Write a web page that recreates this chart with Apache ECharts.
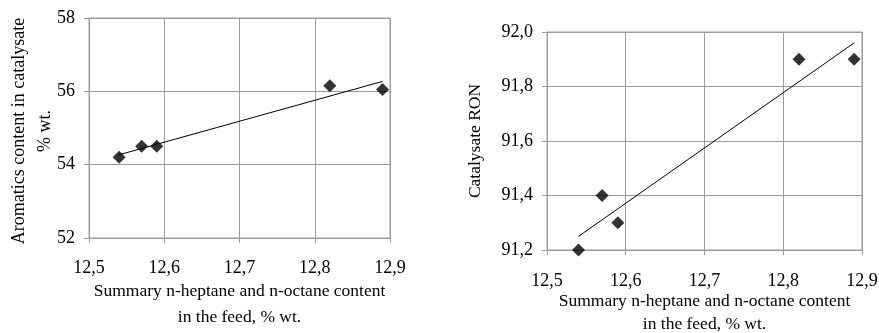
<!DOCTYPE html>
<html>
<head>
<meta charset="utf-8">
<script src="https://cdn.jsdelivr.net/npm/echarts@6/dist/echarts.min.js"></script>
<style>
html,body{margin:0;padding:0;background:#fff;}
#c{width:879px;height:333px;}
</style>
</head>
<body>
<div id="c"></div>
<script>
// Data
var feedContent = [12.54, 12.57, 12.59, 12.82, 12.89];
var aromatics = [54.2, 54.5, 54.5, 56.15, 56.05];
var ron = [91.2, 91.4, 91.3, 91.9, 91.9];
// Trend line end points
var trendX = [12.54, 12.89];
var aromaticsTrend = [54.27, 56.27];
var ronTrend = [91.25, 91.96];

var xTitle = 'Summary n-heptane and n-octane content\nin the feed, % wt.';
var yTitleLeft = 'Aromatics content in catalysate\n% wt.';
var yTitleRight = 'Catalysate RON';

function pairs(xs, ys){ return xs.map(function(x,i){ return [x, ys[i]]; }); }

var FONT = '"Liberation Serif", "Times New Roman", serif';
var GRAY = '#9c9c9c';
var TICK_FS = 18;
var NAME_FS = 17.5;

function xAxisCfg(idx, gap, lh, margin){
  return {
    gridIndex: idx, type: 'value', min: 12.5, max: 12.9, interval: 0.1,
    axisLine: {show: true, lineStyle: {color: GRAY, width: 1}},
    axisTick: {show: true, length: 5, lineStyle: {color: GRAY}},
    splitLine: {show: true, lineStyle: {color: GRAY, width: 1}},
    axisLabel: {color: '#000', fontFamily: FONT, fontSize: TICK_FS, margin: margin,
      formatter: function(v){ return v.toFixed(1).replace('.', ','); }},
    name: xTitle, nameLocation: 'middle', nameGap: gap, nameMoveOverlap: false,
    nameTextStyle: {color: '#000', fontFamily: FONT, fontSize: NAME_FS, lineHeight: lh}
  };
}
function yAxisCfg(idx, min, max, interval, dec, name, gap, lh, fs, pad){
  return {
    gridIndex: idx, type: 'value', min: min, max: max, interval: interval,
    axisLine: {show: true, lineStyle: {color: GRAY, width: 1}},
    axisTick: {show: true, length: 5, lineStyle: {color: GRAY}},
    splitLine: {show: true, lineStyle: {color: GRAY, width: 1}},
    axisLabel: {color: '#000', fontFamily: FONT, fontSize: TICK_FS, margin: 14,
      formatter: function(v){ return v.toFixed(dec).replace('.', ','); }},
    name: name, nameLocation: 'middle', nameGap: gap, nameMoveOverlap: false,
    nameTextStyle: {color: '#000', fontFamily: FONT, fontSize: fs, lineHeight: lh, padding: pad}
  };
}

var chart = echarts.init(document.getElementById('c'), null, {renderer: 'canvas'});
chart.setOption({
  backgroundColor: '#fff',
  animation: false,
  grid: [
    {left: 89, top: 18, width: 301, height: 220, show: true, borderColor: GRAY, borderWidth: 1,
     outerBoundsMode: 'none', containLabel: false},
    {left: 547, top: 32, width: 315, height: 218, show: true, borderColor: GRAY, borderWidth: 1,
     outerBoundsMode: 'none', containLabel: false}
  ],
  xAxis: [xAxisCfg(0, 40, 26.5, 21), xAxisCfg(1, 40, 23, 22)],
  yAxis: [
    yAxisCfg(0, 52, 58, 2, 0, yTitleLeft, 30, 26.5, 18, [0, 6, 0, 0]),
    yAxisCfg(1, 91.2, 92.0, 0.2, 1, yTitleRight, 63, 18, NAME_FS, 0)
  ],
  series: [
    {type: 'line', xAxisIndex: 0, yAxisIndex: 0, data: pairs(trendX, aromaticsTrend),
     symbol: 'none', lineStyle: {color: '#000', width: 1}, z: 2},
    {type: 'scatter', xAxisIndex: 0, yAxisIndex: 0, data: pairs(feedContent, aromatics),
     symbol: 'diamond', symbolSize: 13, itemStyle: {color: '#000'}, z: 3},
    {type: 'line', xAxisIndex: 1, yAxisIndex: 1, data: pairs(trendX, ronTrend),
     symbol: 'none', lineStyle: {color: '#000', width: 1}, z: 2},
    {type: 'scatter', xAxisIndex: 1, yAxisIndex: 1, data: pairs(feedContent, ron),
     symbol: 'diamond', symbolSize: 13, itemStyle: {color: '#000'}, z: 3}
  ]
});
</script>
</body>
</html>
